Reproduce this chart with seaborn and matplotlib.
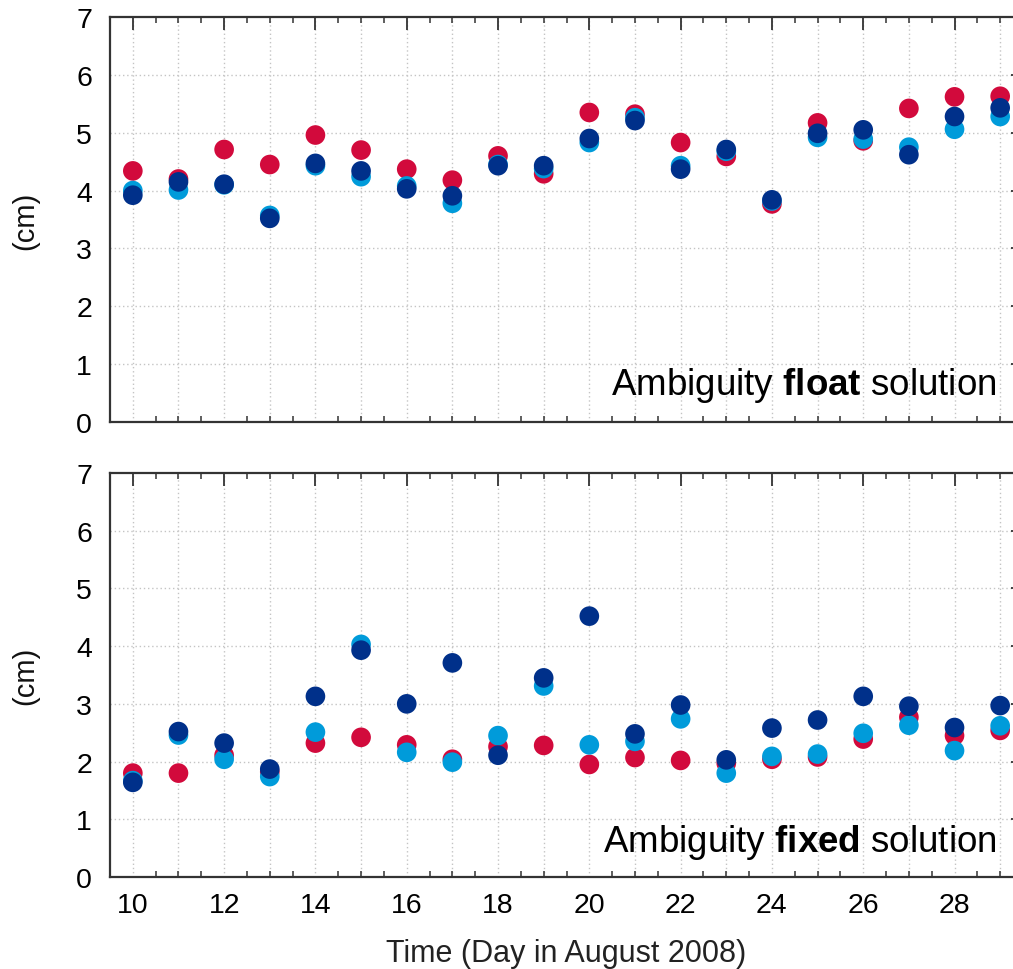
import matplotlib
matplotlib.use('Agg')
import matplotlib.pyplot as plt
from matplotlib.ticker import MultipleLocator
import numpy as np
import pandas as pd
import seaborn as sns

# days in August 2008
days = list(range(10, 30))

# ambiguity float solution (cm)
float_red = [4.34, 4.20, 4.71, 4.45, 4.96, 4.70, 4.37, 4.18, 4.60, 4.29,
             5.35, 5.32, 4.83, 4.59, 3.77, 5.17, 4.86, 5.42, 5.62, 5.63]
float_light = [4.00, 4.01, 4.10, 3.57, 4.43, 4.24, 4.08, 3.78, 4.45, 4.38,
               4.83, 5.26, 4.43, 4.68, 3.82, 4.92, 4.89, 4.75, 5.06, 5.28]
float_dark = [3.92, 4.15, 4.11, 3.52, 4.47, 4.34, 4.03, 3.91, 4.43, 4.43,
              4.90, 5.21, 4.37, 4.71, 3.84, 4.99, 5.05, 4.62, 5.28, 5.43]

# ambiguity fixed solution (cm)
fixed_red = [1.80, 1.80, 2.11, 1.82, 2.32, 2.42, 2.29, 2.04, 2.26, 2.28,
             1.95, 2.07, 2.02, 1.97, 2.04, 2.08, 2.39, 2.77, 2.45, 2.54]
fixed_light = [1.67, 2.46, 2.04, 1.74, 2.51, 4.03, 2.16, 1.99, 2.45, 3.31,
               2.29, 2.35, 2.74, 1.80, 2.09, 2.13, 2.49, 2.63, 2.19, 2.62]
fixed_dark = [1.64, 2.52, 2.32, 1.87, 3.13, 3.93, 3.00, 3.71, 2.11, 3.45,
              4.52, 2.48, 2.98, 2.03, 2.58, 2.72, 3.13, 2.96, 2.59, 2.97]

series_names = ['red', 'light', 'dark']
palette = {'red': '#D20A3C', 'light': '#009BDA', 'dark': '#00308A'}

sns.set_theme(style='white')
plt.rcParams['font.family'] = ['Liberation Sans', 'DejaVu Sans']
plt.rcParams['mathtext.fontset'] = 'custom'
plt.rcParams['mathtext.rm'] = 'Liberation Sans'
plt.rcParams['mathtext.bf'] = 'Liberation Sans:bold'


def long_form(a, b, c):
    frames = []
    for name, vals in zip(series_names, [a, b, c]):
        frames.append(pd.DataFrame({'day': days, 'cm': vals, 'series': name}))
    return pd.concat(frames, ignore_index=True)


fig = plt.figure(figsize=(10.13, 9.70), dpi=100)
W, H = 1013.0, 970.0
ax_top = fig.add_axes([110 / W, 1 - 423 / H, 913 / W, 405 / H])
ax_bot = fig.add_axes([110 / W, 1 - 878 / H, 913 / W, 404 / H])

panels = [
    (ax_top, long_form(float_red, float_light, float_dark), 'float', 0.068),
    (ax_bot, long_form(fixed_red, fixed_light, fixed_dark), 'fixed', 0.064),
]

for ax, df, kind, ty in panels:
    # grid first so points sit above it
    for d in days:
        ax.axvline(d, color='#c4c4c4', lw=1.0, ls=(0, (1, 2)), zorder=0)
    for yv in range(1, 7):
        ax.axhline(yv, color='#c4c4c4', lw=1.0, ls=(0, (1, 2)), zorder=0)

    sns.scatterplot(data=df, x='day', y='cm', hue='series', hue_order=series_names,
                    palette=palette, s=200, linewidth=0, alpha=1.0,
                    legend=False, ax=ax, zorder=3)

    ax.set_xlim(9.5, 29.5)
    ax.set_ylim(0, 7)
    ax.xaxis.set_major_locator(MultipleLocator(2))
    ax.xaxis.set_minor_locator(MultipleLocator(0.5))
    ax.yaxis.set_major_locator(MultipleLocator(1))
    ax.tick_params(axis='both', which='major', direction='in', length=9, width=1.3,
                   color='#333333', labelcolor='black', top=True, right=True,
                   labelsize=20.5)
    ax.tick_params(axis='x', which='minor', direction='in', length=4.5, width=1.1,
                   color='#333333', top=True, bottom=True)
    ax.tick_params(axis='y', which='major', pad=13)
    ax.tick_params(axis='x', which='major', pad=11)
    for sp in ax.spines.values():
        sp.set_color('#333333')
        sp.set_linewidth(1.6)
    ax.set_ylabel('(cm)', fontsize=21, color='#111111')
    ax.grid(False)

    ax.text(0.9715, ty, r'Ambiguity $\mathbf{%s}$ solution' % kind,
            transform=ax.transAxes, ha='right', va='baseline',
            fontsize=26.5, color='black', zorder=5)

ax_top.set_xlabel('')
ax_top.tick_params(axis='x', labelbottom=False)
ax_bot.set_xlabel('Time (Day in August 2008)', fontsize=22, color='#222222', labelpad=14)

for ax in (ax_top, ax_bot):
    ax.yaxis.set_label_coords(-0.077, 0.5)

fig.savefig('out.png', dpi=100)
